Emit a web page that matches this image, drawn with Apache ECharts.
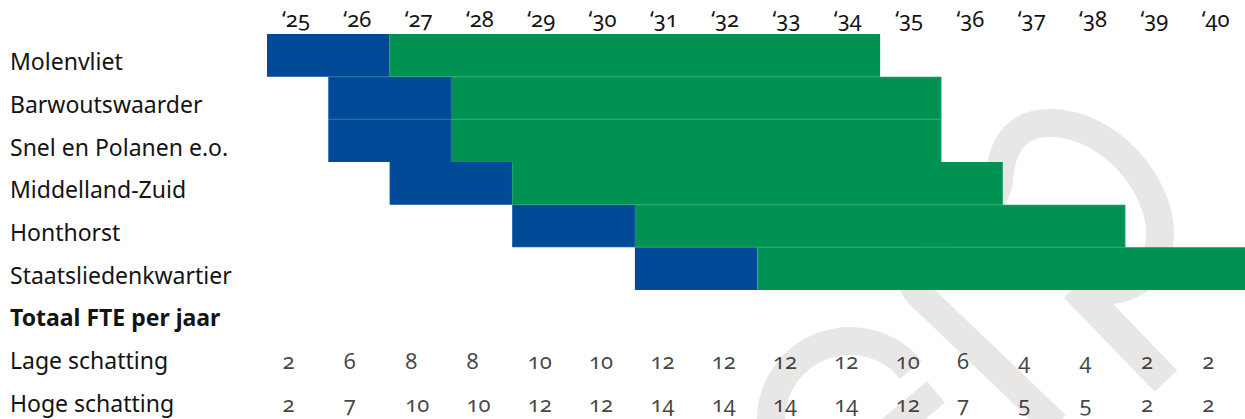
<!DOCTYPE html>
<html>
<head>
<meta charset="utf-8">
<script src="https://cdn.jsdelivr.net/npm/echarts@6/dist/echarts.min.js"></script>
<style>
  html, body { margin: 0; padding: 0; background: #ffffff; }
  #chart { width: 1245px; height: 419px; }
  #chart text { font-variant-numeric: oldstyle-nums !important; font-feature-settings: "onum" 1 !important; }
</style>
</head>
<body>
<div id="chart"></div>
<script>
// ---- data ----
const projects = ['Molenvliet', 'Barwoutswaarder', 'Snel en Polanen e.o.', 'Middelland-Zuid', 'Honthorst', 'Staatsliedenkwartier'];
const summaryRows = ['Totaal FTE per jaar', 'Lage schatting', 'Hoge schatting'];
const startYear = [2025, 2026, 2026, 2027, 2029, 2031];   // blue phase starts
const blueEnd   = [2027, 2028, 2028, 2029, 2031, 2033];   // green phase starts
const greenEnd  = [2035, 2036, 2036, 2037, 2039, 2041];   // green phase ends
const years = [2025, 2026, 2027, 2028, 2029, 2030, 2031, 2032, 2033, 2034, 2035, 2036, 2037, 2038, 2039, 2040];
const yearLabels = ['‘25', '‘26', '‘27', '‘28', '‘29', '‘30', '‘31', '‘32', '‘33', '‘34', '‘35', '‘36', '‘37', '‘38', '‘39', '‘40'];
const lowEstimate  = [2, 6, 8, 8, 10, 10, 12, 12, 12, 12, 10, 6, 4, 4, 2, 2];
const highEstimate = [2, 7, 10, 10, 12, 12, 14, 14, 14, 14, 12, 7, 5, 5, 2, 2];

const BLUE = '#014a98';
const GREEN = '#009253';
const WATERMARK = '#e8e7e5';
const FONT = 'Noto Sans';
const TEXT = '#141414';

const rows = projects.concat(summaryRows);
const pad = arr => arr.concat(summaryRows.map(() => '-'));

const baseData = pad(startYear);
const blueData = pad(blueEnd.map((e, i) => e - startYear[i]));
const greenData = pad(greenEnd.map((e, i) => e - blueEnd[i]));

const lowPts = years.map((y, i) => [y, summaryRows[1], lowEstimate[i]]);
const highPts = years.map((y, i) => [y, summaryRows[2], highEstimate[i]]);

const numLabel = {
  show: true, position: 'right', distance: 15, offset: [0, 6],
  fontFamily: FONT, fontSize: 22, color: TEXT,
  formatter: p => String(p.value[2])
};

const wm = (extra) => Object.assign({ z: 0, silent: true }, extra);
const wmStyle = (w, cap) => ({ stroke: WATERMARK, lineWidth: w, fill: null, lineCap: cap });
const bez = (x1, y1, c1x, c1y, c2x, c2y, x2, y2) => wm({ type: 'bezierCurve',
  shape: { x1: x1, y1: y1, cpx1: c1x, cpy1: c1y, cpx2: c2x, cpy2: c2y, x2: x2, y2: y2 },
  style: wmStyle(28, 'round') });

const chart = echarts.init(document.getElementById('chart'), null, { renderer: 'svg' });
chart.setOption({
  animation: false,
  backgroundColor: '#ffffff',
  textStyle: { fontFamily: FONT },
  grid: { left: 267, right: -3, top: 34, bottom: 1, containLabel: false, outerBoundsMode: 'none' },
  graphic: [
    wm({ type: 'arc',
      shape: { cx: 850, cy: 420, r: 79, startAngle: Math.PI, endAngle: 2 * Math.PI - 0.69, clockwise: true },
      style: wmStyle(28, 'butt') }),
    wm({ type: 'line', shape: { x1: 936, y1: 392, x2: 876, y2: 442 }, style: wmStyle(28, 'butt') }),
    wm({ type: 'line', shape: { x1: 1056, y1: 425, x2: 920, y2: 295 }, style: wmStyle(28, 'butt') }),
    bez(920, 295, 880, 255, 995, 230, 999, 180),
    bez(999, 180, 1002, 140, 1020, 123, 1050, 123),
    bez(1050, 123, 1110, 123, 1160, 185, 1160, 233),
    bez(1160, 233, 1160, 270, 1135, 292, 1100, 290),
    wm({ type: 'line', shape: { x1: 1075, y1: 287, x2: 1166, y2: 381 }, style: wmStyle(31, 'butt') })
  ],
  xAxis: {
    type: 'value', position: 'top', min: 2025, max: 2041, interval: 1,
    axisLine: { show: false }, axisTick: { show: false }, splitLine: { show: false },
    axisLabel: {
      show: true, margin: 16, align: 'left', verticalAlign: 'middle', padding: [0, 0, 0, 15],
      fontFamily: FONT, fontSize: 22, color: TEXT,
      formatter: v => { const i = years.indexOf(v); return i >= 0 ? yearLabels[i] : ''; }
    }
  },
  yAxis: {
    type: 'category', data: rows, inverse: true,
    axisLine: { show: false }, axisTick: { show: false }, splitLine: { show: false },
    axisLabel: {
      margin: 257, align: 'left', verticalAlign: 'middle', padding: [12, 0, 0, 0],
      fontFamily: FONT, fontSize: 23, color: TEXT,
      formatter: v => v === summaryRows[0] ? '{b|' + v + '}' : v,
      rich: { b: { fontFamily: FONT, fontSize: 23, fontWeight: 'bold', color: TEXT } }
    }
  },
  series: [
    { type: 'bar', stack: 'plan', data: baseData, silent: true, barCategoryGap: '0%',
      itemStyle: { color: 'rgba(0,0,0,0)' } },
    { type: 'bar', stack: 'plan', data: blueData, barCategoryGap: '0%',
      itemStyle: { color: BLUE, borderColor: BLUE, borderWidth: 1.2 } },
    { type: 'bar', stack: 'plan', data: greenData, barCategoryGap: '0%',
      itemStyle: { color: GREEN, borderColor: GREEN, borderWidth: 1.2 } },
    { type: 'scatter', data: lowPts, symbolSize: 1, itemStyle: { color: 'rgba(0,0,0,0)' }, label: numLabel },
    { type: 'scatter', data: highPts, symbolSize: 1, itemStyle: { color: 'rgba(0,0,0,0)' }, label: numLabel }
  ]
});
</script>
</body>
</html>
